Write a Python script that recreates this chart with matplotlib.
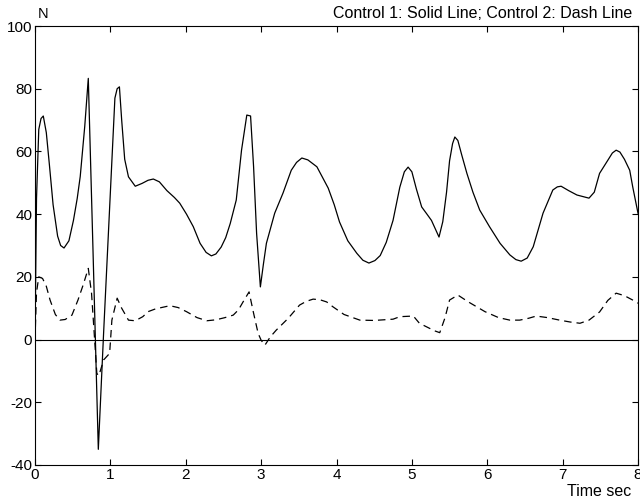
import matplotlib
matplotlib.use("Agg")
import matplotlib.pyplot as plt

# Control 1 (solid line)
t1 = [0.00, 0.02, 0.05, 0.08, 0.11, 0.15, 0.19, 0.24, 0.30, 0.34, 0.385, 0.45, 0.51, 0.56, 0.60,
      0.66, 0.707, 0.77, 0.84, 0.91, 0.96, 1.02, 1.06, 1.09, 1.12, 1.15, 1.19, 1.24, 1.33, 1.42,
      1.50, 1.57, 1.65, 1.75, 1.85, 1.92, 2.01, 2.10, 2.19, 2.27, 2.34, 2.40, 2.47, 2.53, 2.59,
      2.67, 2.74, 2.81, 2.86, 2.90, 2.94, 2.99, 3.03, 3.07, 3.18, 3.29, 3.40, 3.47, 3.54, 3.62,
      3.74, 3.89, 3.97, 4.04, 4.15, 4.27, 4.35, 4.43, 4.51, 4.58, 4.66, 4.75, 4.84, 4.90, 4.95,
      5.00, 5.06, 5.13, 5.20, 5.26, 5.36, 5.41, 5.46, 5.50, 5.54, 5.57, 5.61, 5.66, 5.73, 5.81,
      5.90, 6.03, 6.17, 6.30, 6.38, 6.45, 6.53, 6.61, 6.74, 6.87, 6.93, 6.98, 7.08, 7.19, 7.35,
      7.42, 7.49, 7.60, 7.66, 7.71, 7.76, 7.82, 7.89, 7.93, 8.00]
y1 = [0, 45, 67, 70.5, 71.3, 66, 56, 43, 33, 30, 29.2, 31.5, 38, 45, 52,
      68, 83.3, 28, -35, 2, 27, 57, 77, 80, 80.6, 70, 57.5, 51.9, 48.9, 49.8,
      50.8, 51.2, 50.3, 47.5, 45.3, 43.5, 40, 36, 30.7, 27.8, 26.7, 27.3, 29.5, 32.5, 37,
      44.5, 60.4, 71.6, 71.3, 55.1, 33.9, 16.8, 24, 30.7, 40.3, 46.7, 54, 56.5, 57.9, 57.3,
      55.1, 48.3, 43, 37.5, 31.5, 27.5, 25.3, 24.4, 25.2, 26.8, 31, 38, 48.6, 53.5, 55,
      53.5, 48, 42.3, 40, 38, 32.7, 37.6, 47, 57, 62.5, 64.6, 63.5, 59, 53, 47,
      41.3, 36, 30.7, 27, 25.5, 25, 26, 29.6, 40.3, 47.7, 48.7, 48.9, 47.5, 46.1, 45.1,
      47, 53, 57.2, 59.5, 60.4, 59.8, 57.5, 54, 48.7, 40.3]

# Control 2 (dash line)
t2 = [0.00, 0.02, 0.05, 0.10, 0.15, 0.20, 0.27, 0.33, 0.40, 0.49, 0.57, 0.64, 0.707,
      0.75, 0.78, 0.80, 0.82, 0.84, 0.86, 0.91, 0.99, 1.02, 1.09, 1.15, 1.24, 1.33,
      1.43, 1.50, 1.60, 1.79, 1.90, 2.01, 2.15, 2.28, 2.40, 2.52, 2.63, 2.70, 2.76, 2.84,
      2.90, 2.96, 3.00, 3.05, 3.12, 3.20, 3.36, 3.51, 3.60, 3.69, 3.78, 3.87, 3.95, 4.10,
      4.31, 4.50, 4.75, 4.84, 5.02, 5.10, 5.20, 5.30, 5.37, 5.44, 5.50, 5.61, 5.75, 5.97,
      6.15, 6.30, 6.43, 6.55, 6.65, 6.80, 6.96, 7.10, 7.23, 7.35, 7.49, 7.60, 7.71, 7.82,
      7.93, 8.00]
y2 = [0, 15, 20, 19.5, 17, 12.6, 8, 6.2, 6.4, 7.8, 12.6, 17.5, 22.7,
      14.8, 4, -3.3, -10.7, -11.5, -10.5, -6.5, -4.4, 6.2, 13.2, 10, 6.2, 6,
      7.3, 8.9, 9.8, 10.8, 10.2, 8.9, 7, 6, 6.3, 7.0, 7.8, 9.5, 12, 15.2,
      8.4, 2, -0.2, -1.8, 0.8, 3, 6.8, 11, 12.2, 12.9, 12.7, 12, 10.5, 8,
      6.2, 6.1, 6.5, 7.3, 7.5, 5.2, 4, 2.8, 2.2, 7, 12.6, 14.2, 12, 8.9,
      7, 6.2, 6.2, 6.8, 7.5, 7, 6.2, 5.6, 5.2, 6.2, 8.8, 12.5, 14.8, 14,
      12.6, 11.6]

x_ticks = [0, 1, 2, 3, 4, 5, 6, 7, 8]
y_ticks = [-40, -20, 0, 20, 40, 60, 80, 100]

plt.rcParams['font.family'] = ['Liberation Sans', 'DejaVu Sans']

fig = plt.figure(figsize=(6.4, 5.04), dpi=100)
ax = fig.add_axes([35 / 640, 39 / 504, 603 / 640, 439 / 504])

ax.plot(t1, y1, color='black', lw=0.9)
ax.plot(t2, y2, color='black', lw=0.9, linestyle=(0, (6, 4)))
ax.axhline(0, color='black', lw=0.8)

ax.set_xlim(0, 8)
ax.set_ylim(-40, 100)
ax.set_xticks(x_ticks)
ax.set_yticks(y_ticks)
ax.set_xticklabels([str(v) for v in x_ticks])
ax.set_yticklabels([str(v) for v in y_ticks])
ax.tick_params(direction='in', length=4, width=0.8, top=True, right=True,
               labelsize=11, pad=2, colors='black')
for s in ax.spines.values():
    s.set_linewidth(0.8)
    s.set_color('black')

fig.text(43 / 640, 1 - 14 / 504, 'N', fontsize=10.5, ha='center', va='center')
fig.text(632 / 640, 1 - 14 / 504, 'Control 1: Solid Line; Control 2: Dash Line',
         fontsize=11.5, ha='right', va='center')
fig.text(631 / 640, 1 - 492 / 504, 'Time sec', fontsize=11.5, ha='right', va='center')

fig.savefig('out.png', dpi=100)
